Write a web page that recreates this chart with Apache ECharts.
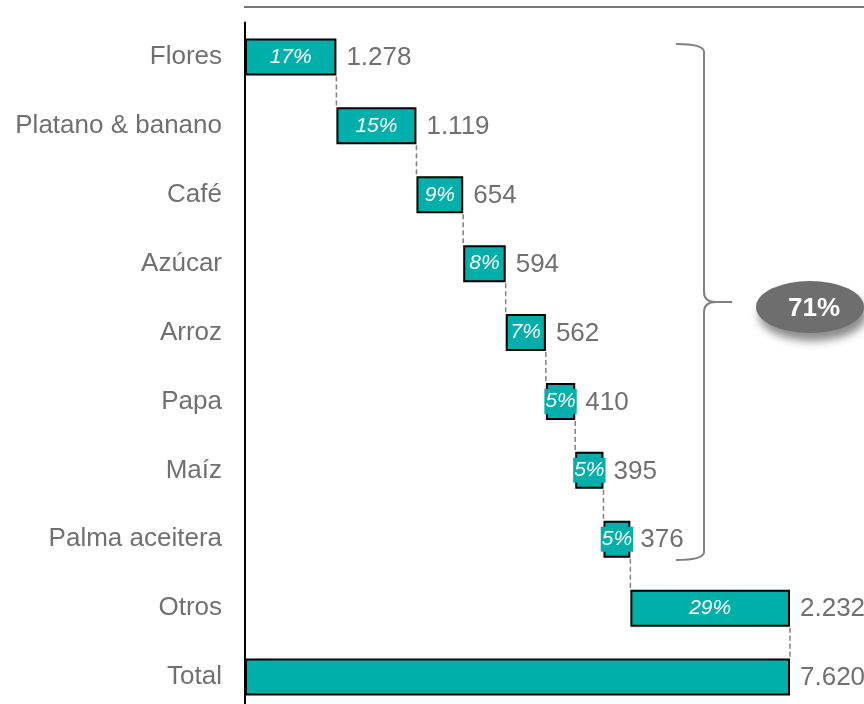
<!DOCTYPE html>
<html><head><meta charset="utf-8">
<script src="https://cdn.jsdelivr.net/npm/echarts@6/dist/echarts.min.js"></script>
<style>html,body{margin:0;padding:0;background:#fff;overflow:hidden}#c{width:864px;height:724px}</style>
</head><body><div id="c"></div>
<script>
const categories = ['Flores','Platano & banano','Café','Azúcar','Arroz','Papa','Maíz','Palma aceitera','Otros','Total'];
const values = [1278,1119,654,594,562,410,395,376,2232,7620];
const shares = ['17%','15%','9%','8%','7%','5%','5%','5%','29%',''];
const bracketLabel = '71%';

const TEAL = '#00AFAA';
const GREY = '#707070';
const FONT = 'Liberation Sans, Arial, sans-serif';
const BAR_W = 37;

// waterfall bases (last item = total, starts at 0)
const bases = [];
let acc = 0;
values.forEach((v, i) => {
  if (i === values.length - 1) bases.push(0);
  else { bases.push(acc); acc += v; }
});

function fmt(n) { return String(n).replace(/\B(?=(\d{3})+(?!\d))/g, '.'); }

const customData = values.map((v, i) => [i, bases[i], v]);

const braceStyle = {stroke: '#808080', lineWidth: 2, fill: null};

const chart = echarts.init(document.getElementById('c'), null, {renderer: 'canvas'});
chart.setOption({
  animation: false,
  backgroundColor: '#fff',
  grid: {left: 245, width: 545, top: 22.5, height: 689, containLabel: false},
  xAxis: {type: 'value', min: 0, max: 7620, show: false},
  yAxis: {
    type: 'category', data: categories, inverse: true,
    axisLine: {show: true, lineStyle: {color: '#000', width: 2}},
    axisTick: {show: false},
    splitLine: {show: false},
    axisLabel: {color: GREY, fontSize: 26, fontFamily: FONT, margin: 23}
  },
  series: [
    {
      type: 'bar', stack: 'w', data: bases, barWidth: BAR_W, silent: true,
      itemStyle: {color: 'rgba(0,0,0,0)'}
    },
    {
      type: 'bar', stack: 'w', data: values, barWidth: BAR_W,
      itemStyle: {color: TEAL, borderColor: '#000', borderWidth: 2},
      label: {
        show: true, position: 'inside',
        formatter: p => shares[p.dataIndex],
        color: '#fff', fontStyle: 'italic', fontSize: 21, fontFamily: FONT,
        backgroundColor: TEAL, padding: [2, 1]
      }
    },
    {
      type: 'custom', data: customData, clip: false, z: 1,
      encode: {x: [1, 2], y: 0},
      renderItem: function (params, api) {
        const idx = api.value(0);
        const end = api.value(1) + api.value(2);
        const p = api.coord([end, idx]);
        const band = api.size([0, 1])[1];
        const children = [{
          type: 'text',
          style: {
            x: p[0] + 10, y: p[1] + 1, text: fmt(api.value(2)),
            fill: GREY, font: '26px ' + FONT,
            textAlign: 'left', textVerticalAlign: 'middle'
          }
        }];
        if (idx < values.length - 1) {
          children.push({
            type: 'line',
            shape: {x1: p[0], y1: p[1] + BAR_W / 2 + 1, x2: p[0], y2: p[1] + band - BAR_W / 2 - 1},
            style: {stroke: '#808080', lineWidth: 1.5, lineDash: [5, 3]}
          });
        }
        return {type: 'group', children: children};
      }
    }
  ],
  graphic: [
    {type: 'line', shape: {x1: 244, y1: 7, x2: 864, y2: 7}, style: {stroke: '#777', lineWidth: 2}},
    {type: 'bezierCurve', shape: {x1: 676, y1: 44, cpx1: 704, cpy1: 44, x2: 704, y2: 52}, style: braceStyle},
    {type: 'line', shape: {x1: 704, y1: 52, x2: 704, y2: 292}, style: braceStyle},
    {type: 'bezierCurve', shape: {x1: 704, y1: 292, cpx1: 704, cpy1: 302, x2: 716, y2: 302}, style: braceStyle},
    {type: 'line', shape: {x1: 714, y1: 302, x2: 732, y2: 302}, style: braceStyle},
    {type: 'bezierCurve', shape: {x1: 716, y1: 302, cpx1: 704, cpy1: 302, x2: 704, y2: 312}, style: braceStyle},
    {type: 'line', shape: {x1: 704, y1: 312, x2: 704, y2: 552}, style: braceStyle},
    {type: 'bezierCurve', shape: {x1: 704, y1: 552, cpx1: 704, cpy1: 560, x2: 676, y2: 560}, style: braceStyle},
    {
      type: 'circle', shape: {cx: 0, cy: 0, r: 54}, x: 810, y: 307, scaleY: 26 / 54,
      style: {fill: '#6e6e6e', shadowBlur: 8, shadowColor: 'rgba(0,0,0,0.45)', shadowOffsetX: 3, shadowOffsetY: 8}
    },
    {
      type: 'text', x: 814, y: 309,
      style: {text: bracketLabel, fill: '#fff', font: 'bold 26px ' + FONT, textAlign: 'center', textVerticalAlign: 'middle'}
    }
  ]
});
</script></body></html>
